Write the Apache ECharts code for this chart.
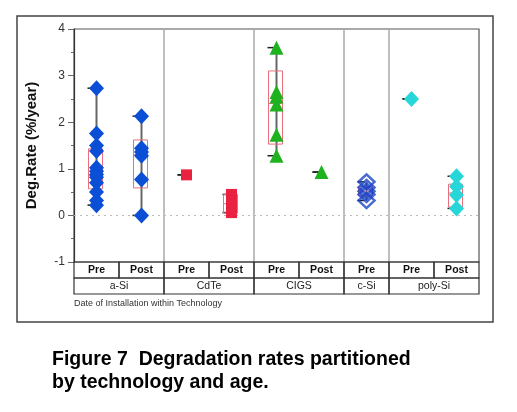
<!DOCTYPE html>
<html><head><meta charset="utf-8">
<script src="https://cdn.jsdelivr.net/npm/echarts@6/dist/echarts.min.js"></script>
<style>html,body{margin:0;padding:0;background:#fff}#c{width:517px;height:412px}</style>
</head><body><div id="c"></div>
<script>
// ---- data ----
const subgroups = ['a-Si Pre','a-Si Post','CdTe Pre','CdTe Post','CIGS Pre','CIGS Post','c-Si Pre','poly-Si Pre','poly-Si Post'];
const subLabels = ['Pre','Post','Pre','Post','Pre','Post','Pre','Pre','Post'];
const techs = ['a-Si','CdTe','CIGS','c-Si','poly-Si'];
const techSpans = [[0,1],[2,3],[4,5],[6,6],[7,8]];
const yTicks = [-1,0,1,2,3,4];
const yMin = -1, yMax = 4;

const aSiPre = [2.73,1.76,1.50,1.38,1.02,0.95,0.88,0.82,0.70,0.50,0.32,0.22];
const aSiPost = [2.13,1.44,1.36,1.28,0.77,0.00];
const cdtePre = [0.87];
const cdtePost = [0.45,0.38,0.30,0.22,0.14,0.06];
const cigsPre = [3.60,2.65,2.55,2.38,1.73,1.28];
const cigsPost = [0.93];
const cSiPre = [0.72,0.60,0.52,0.45,0.32];
const polyPre = [2.50];
const polyPost = [0.84,0.62,0.44,0.15];

// box: [subgroup index, q1, median, q3]
const boxStats = [[0,0.57,0.86,1.43],[1,0.59,1.30,1.62],[3,0.05,0.25,0.45],[4,1.53,2.40,3.10],[6,0.42,0.52,0.62],[8,0.18,0.48,0.67]];
// range: [subgroup index, min, max]
const ranges = [[0,0.22,2.73],[1,0.00,2.13],[2,0.87,0.87],[3,0.06,0.45],[4,1.28,3.60],[5,0.93,0.93],[6,0.32,0.72],[7,2.50,2.50],[8,0.15,0.84]];

const pts = (sg, arr) => arr.map(v => [sg, v]);

const chart = echarts.init(document.getElementById('c'));
const font = 'Liberation Sans, Arial, sans-serif';

const scatter = (name, data, symbol, size, color, extra) => Object.assign({
  type:'scatter', name, data, symbol, symbolSize:size, z:5,
  itemStyle:{color, opacity:1}, silent:true
}, extra||{});

chart.setOption({
  animation:false,
  textStyle:{fontFamily:font},
  grid:{left:74, top:29, width:405, height:233, show:true, borderColor:'#555', borderWidth:1.2, backgroundColor:'#fff'},
  xAxis:{type:'category', data:subgroups, boundaryGap:true,
    axisLine:{show:false}, axisTick:{show:false}, axisLabel:{show:false}, splitLine:{show:false}},
  yAxis:{type:'value', min:yMin, max:yMax, interval:1,
    name:'Deg.Rate (%/year)', nameLocation:'middle', nameGap:35, nameRotate:90,
    nameTextStyle:{fontSize:15, fontWeight:'bold', color:'#111', fontFamily:font},
    axisLine:{show:true, lineStyle:{color:'#333', width:1.2}},
    axisTick:{show:true, length:6, lineStyle:{color:'#666'}},
    minorTick:{show:true, splitNumber:2, length:3, lineStyle:{color:'#666'}},
    axisLabel:{fontSize:12, color:'#333', margin:9, formatter:v=>String(v)},
    splitLine:{show:false}},
  graphic:[
    {type:'rect', shape:{x:17, y:16, width:476, height:306}, style:{fill:'none', stroke:'#444', lineWidth:1.5}, z:-1},
    {type:'text', left:74, top:299, style:{text:'Date of Installation within Technology', font:'9px '+font, fill:'#333'}},
    {type:'text', left:52, top:348, style:{text:'Figure 7  Degradation rates partitioned\nby technology and age.', font:'bold 19.5px '+font, fill:'#000', lineHeight:23}}
  ],
  series:[
    // technology separators + bottom technology row
    {type:'custom', silent:true, z:1, data:techSpans.map((s,i)=>[s[0],s[1],i]),
      renderItem(params, api){
        const s = api.value(0), e = api.value(1), i = api.value(2);
        const w = api.size([1,0])[0];
        const pb = api.coord([s, yMin]), pt = api.coord([s, yMax]);
        const x0 = pb[0] - w/2, x1 = api.coord([e, yMin])[0] + w/2;
        const ch = [
          {type:'rect', shape:{x:x0, y:pb[1]+16, width:x1-x0, height:16}, style:{fill:'none', stroke:'#333', lineWidth:1.2}},
          {type:'text', style:{text:techs[i], x:(x0+x1)/2, y:pb[1]+24.5, align:'center', verticalAlign:'middle', font:'10.5px '+font, fill:'#222'}}
        ];
        if (e < subgroups.length-1) ch.push({type:'line', shape:{x1:x1, y1:pt[1], x2:x1, y2:pb[1]}, style:{stroke:'#aaa', lineWidth:1.5}});
        return {type:'group', children:ch};
      }},
    // subgroup row
    {type:'custom', silent:true, z:1, data:subLabels.map((l,i)=>[i]),
      renderItem(params, api){
        const i = api.value(0);
        const w = api.size([1,0])[0];
        const p = api.coord([i, yMin]);
        return {type:'group', children:[
          {type:'rect', shape:{x:p[0]-w/2, y:p[1], width:w, height:16}, style:{fill:'none', stroke:'#333', lineWidth:1.2}},
          {type:'text', style:{text:subLabels[i], x:p[0], y:p[1]+8.5, align:'center', verticalAlign:'middle', font:'bold 10.5px '+font, fill:'#111'}}
        ]};
      }},
    // range lines with caps
    {type:'custom', silent:true, z:2, data:ranges,
      renderItem(params, api){
        const i = api.value(0);
        const a = api.coord([i, api.value(1)]), b = api.coord([i, api.value(2)]);
        return {type:'group', children:[
          {type:'line', shape:{x1:a[0], y1:a[1], x2:b[0], y2:b[1]}, style:{stroke:'#666', lineWidth:2}},
          {type:'line', shape:{x1:a[0]-9, y1:a[1], x2:a[0]-2, y2:a[1]}, style:{stroke:'#222', lineWidth:1.5}},
          {type:'line', shape:{x1:b[0]-9, y1:b[1], x2:b[0]-2, y2:b[1]}, style:{stroke:'#222', lineWidth:1.5}}
        ]};
      },
      markLine:{silent:true, symbol:'none', label:{show:false}, lineStyle:{type:[2,4], color:'#bbb', width:1}, data:[{yAxis:0}]}
    },
    // boxes
    {type:'custom', silent:true, z:3, data:boxStats,
      renderItem(params, api){
        const i = api.value(0);
        const q1 = api.coord([i, api.value(1)]), md = api.coord([i, api.value(2)]), q3 = api.coord([i, api.value(3)]);
        const bw = 14;
        return {type:'group', children:[
          {type:'rect', shape:{x:q1[0]-bw/2-1, y:q3[1], width:bw, height:q1[1]-q3[1]}, style:{fill:'none', stroke:'#e6707e', lineWidth:1}},
          {type:'line', shape:{x1:q1[0]-bw/2-1, y1:md[1], x2:q1[0]+bw/2-1, y2:md[1]}, style:{stroke:'#e6707e', lineWidth:1}}
        ]};
      }},
    scatter('a-Si', pts(0,aSiPre).concat(pts(1,aSiPost)), 'diamond', [15,16], '#0a4fd6'),
    scatter('CdTe', pts(2,cdtePre).concat(pts(3,cdtePost)), 'rect', 11, '#e8223f'),
    scatter('CIGS', pts(4,cigsPre).concat(pts(5,cigsPost)), 'triangle', 14, '#1fb21f'),
    scatter('c-Si', pts(6,cSiPre), 'diamond', [16,15], '#fff', {itemStyle:{color:'rgba(255,255,255,0)', borderColor:'#1d45c8', borderWidth:2.5}}),
    scatter('poly-Si', pts(7,polyPre).concat(pts(8,polyPost)), 'diamond', [15,16], '#27d6d8')
  ]
});
</script></body></html>
